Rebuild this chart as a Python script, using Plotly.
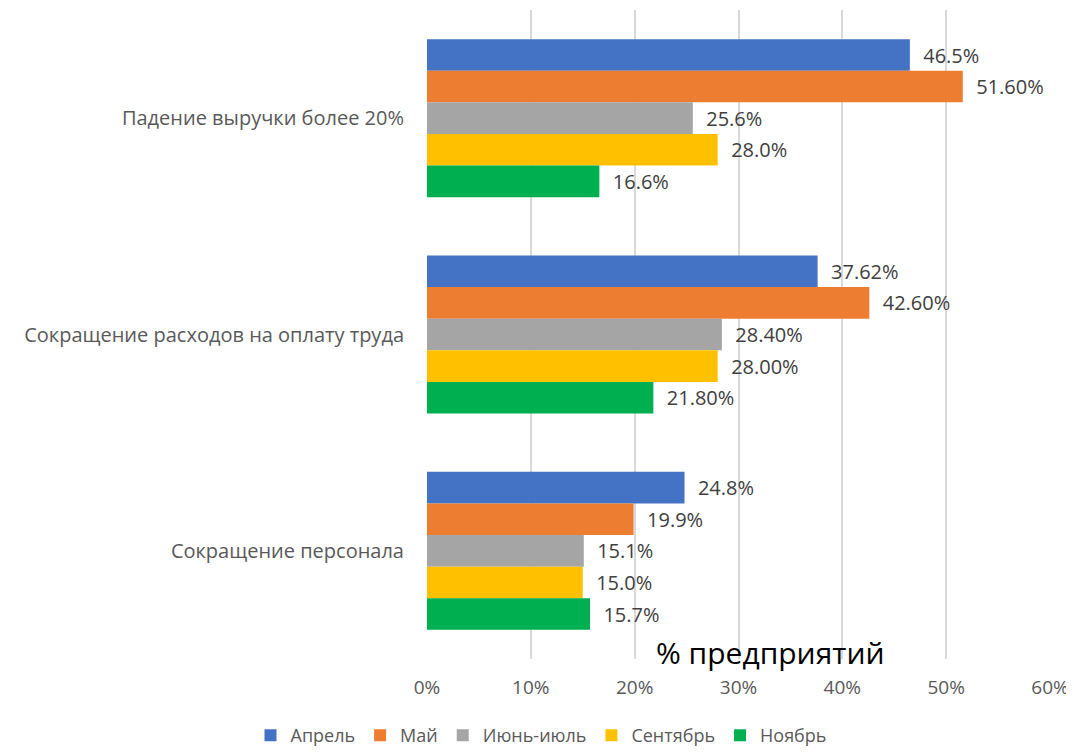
import plotly.graph_objects as go

categories = ["Падение выручки более 20%", "Сокращение расходов на оплату труда", "Сокращение персонала"]
series_names = ["Апрель", "Май", "Июнь-июль", "Сентябрь", "Ноябрь"]
colors = ["#4472C4", "#ED7D31", "#A5A5A5", "#FFC000", "#00B050"]

april = [46.5, 37.62, 24.8]
may = [51.6, 42.6, 19.9]
june_july = [25.6, 28.4, 15.1]
september = [28.0, 28.0, 15.0]
november = [16.6, 21.8, 15.7]

april_lbl = ["46.5%", "37.62%", "24.8%"]
may_lbl = ["51.60%", "42.60%", "19.9%"]
june_july_lbl = ["25.6%", "28.40%", "15.1%"]
september_lbl = ["28.0%", "28.00%", "15.0%"]
november_lbl = ["16.6%", "21.80%", "15.7%"]

x_ticks = [0, 10, 20, 30, 40, 50, 60]
x_tick_text = ["0%", "10%", "20%", "30%", "40%", "50%", "60%"]

series = [april, may, june_july, september, november]
labels = [april_lbl, may_lbl, june_july_lbl, september_lbl, november_lbl]

FONT = "Open Sans"
PAD = "\u00a0\u00a0"
fig = go.Figure()
for name, vals, lbl, col in zip(series_names, series, labels, colors):
    fig.add_trace(go.Bar(
        y=categories, x=vals, name=name, orientation="h",
        marker=dict(color=col, line=dict(width=0)),
        text=[PAD + t for t in lbl], textposition="outside", cliponaxis=False,
        textfont=dict(family=FONT, size=20, color="#404040"),
    ))

# page body has an 8px default margin, so the figure is drawn 8px smaller
fig.update_layout(
    width=1066, height=746,
    paper_bgcolor="white", plot_bgcolor="white",
    barmode="group", bargap=0.27, bargroupgap=0,
    margin=dict(l=419, r=24, t=2, b=95, autoexpand=False),
    font=dict(family=FONT, color="#595959", size=19),
    xaxis=dict(range=[0, 60], tickvals=x_ticks, ticktext=x_tick_text,
               showgrid=True, gridcolor="#D9D9D9", gridwidth=2,
               zeroline=False, showline=False, ticks="",
               ticklabelstandoff=15, automargin=False,
               tickfont=dict(family=FONT, size=19, color="#595959")),
    yaxis=dict(autorange="reversed", showgrid=False, zeroline=False,
               showline=False, ticks="", ticklabelstandoff=22, automargin=False,
               tickfont=dict(family=FONT, size=20, color="#595959")),
    legend=dict(orientation="h", xref="container", yref="container",
                x=0.5, xanchor="center", y=-0.014, yanchor="bottom",
                traceorder="normal",
                font=dict(family=FONT, size=18, color="#595959"),
                itemwidth=30),
    annotations=[dict(text="% предприятий", xref="x", yref="paper",
                      x=33.1, y=0.01, xanchor="center", yanchor="middle",
                      showarrow=False,
                      font=dict(family=FONT, size=30, color="#000000"))],
)

fig.write_html("out.html")
